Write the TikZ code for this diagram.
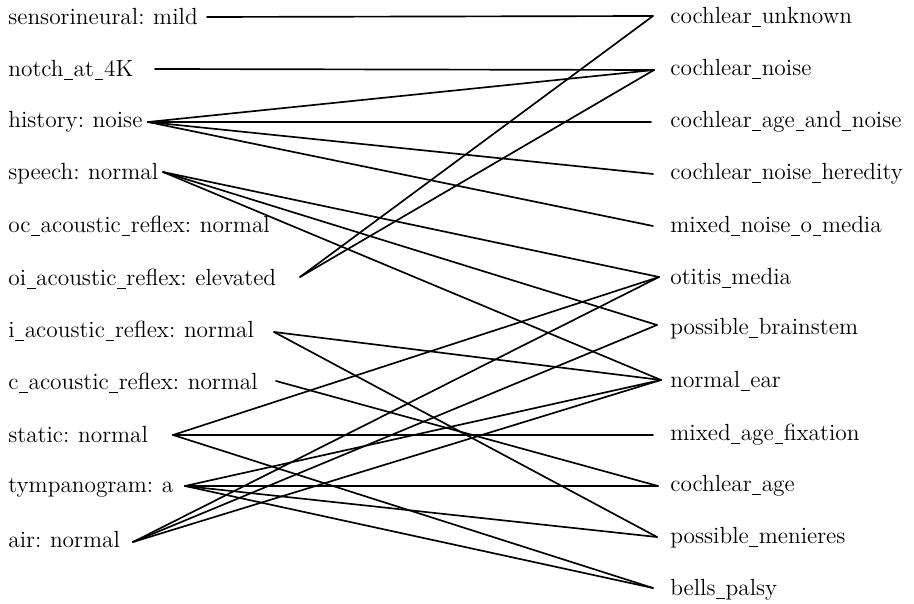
\documentclass[tikz,border=0pt]{standalone}
% slimmer underscore for the identifiers
\newcommand{\usc}{\kern0.03em\rule[-0.13em]{0.37em}{0.045em}\kern0.03em}
% label font with a slightly tighter word space
\newcommand{\lblfont}{\fontsize{13.3}{15}\selectfont\spaceskip=0.26em plus 0.1em\relax}
\begin{document}
\begin{tikzpicture}[x=0.02cm,y=-0.02cm,
  lbl/.style={inner sep=0pt,font=\lblfont},
  leftlbl/.style={lbl,anchor=west},
  rightlbl/.style={lbl,anchor=west},
  link/.style={line width=0.95pt,line cap=round,line join=round}]
\useasboundingbox (0,0) rectangle (914,604);

% findings (left column)
\node[leftlbl] (sens)   at (8,17)  {sensorineural: mild};
\node[leftlbl] (notch)  at (8,70)  {notch\usc at\usc 4K};
\node[leftlbl] (hist)   at (8,122) {history: noise};
\node[leftlbl] (speech) at (8,174) {speech: normal};
\node[leftlbl] (oc)     at (8,226) {oc\usc acoustic\usc reflex: normal};
\node[leftlbl] (oi)     at (8,279) {oi\usc acoustic\usc reflex: elevated};
\node[leftlbl] (iar)    at (8,331) {i\usc acoustic\usc reflex: normal};
\node[leftlbl] (car)    at (8,383) {c\usc acoustic\usc reflex: normal};
\node[leftlbl] (static) at (8,435) {static: normal};
\node[leftlbl] (tymp)   at (8,488) {tympanogram: a};
\node[leftlbl] (air)    at (8,540) {air: normal};

% diagnoses (right column)
\node[rightlbl] (cu)   at (670,17)  {cochlear\usc unknown};
\node[rightlbl] (cn)   at (670,69)  {cochlear\usc noise};
\node[rightlbl] (can)  at (670,122) {cochlear\usc age\usc and\usc noise};
\node[rightlbl] (cnh)  at (670,174) {cochlear\usc noise\usc heredity};
\node[rightlbl] (mnom) at (670,226) {mixed\usc noise\usc o\usc media};
\node[rightlbl] (om)   at (670,278) {otitis\usc media};
\node[rightlbl] (pb)   at (670,329) {possible\usc brainstem};
\node[rightlbl] (ne)   at (670,381) {normal\usc ear};
\node[rightlbl] (maf)  at (670,435) {mixed\usc age\usc fixation};
\node[rightlbl] (ca)   at (670,486) {cochlear\usc age};
\node[rightlbl] (pm)   at (670,538) {possible\usc menieres};
\node[rightlbl] (bp)   at (670,590) {bells\usc palsy};

% line ends on the finding side
\coordinate (sens-p)   at (207,17);
\coordinate (notch-p)  at (155,69);
\coordinate (hist-p)   at (148,122);
\coordinate (speech-p) at (163,172);
\coordinate (oi-p)     at (300,277);
\coordinate (iar-p)    at (274,332);
\coordinate (car-p)    at (276,381);
\coordinate (static-p) at (173,435);
\coordinate (tymp-p)   at (185,486);
\coordinate (air-p)    at (133,542);

% line ends on the diagnosis side
\coordinate (cu-p)   at (653,16);
\coordinate (cn-p)   at (654,70);
\coordinate (can-p)  at (651,122);
\coordinate (cnh-p)  at (653,174);
\coordinate (mnom-p) at (653,226);
\coordinate (om-p)   at (659,277);
\coordinate (pb-p)   at (657,325);
\coordinate (ne-p)   at (661,380);
\coordinate (maf-p)  at (653,435);
\coordinate (ca-p)   at (658,486);
\coordinate (pm-p)   at (657,537);
\coordinate (bp-p)   at (653,588);

% links
\draw[link] (sens-p) -- (cu-p);
\draw[link] (notch-p) -- (cn-p);
\draw[link] (hist-p) -- (cn-p);
\draw[link] (hist-p) -- (can-p);
\draw[link] (hist-p) -- (cnh-p);
\draw[link] (hist-p) -- (mnom-p);
\draw[link] (speech-p) -- (om-p);
\draw[link] (speech-p) -- (pb-p);
\draw[link] (speech-p) -- (ne-p);
\draw[link] (oi-p) -- (cu-p);
\draw[link] (oi-p) -- (cn-p);
\draw[link] (iar-p) -- (ne-p);
\draw[link] (iar-p) -- (pm-p);
\draw[link] (car-p) -- (ca-p);
\draw[link] (static-p) -- (om-p);
\draw[link] (static-p) -- (maf-p);
\draw[link] (static-p) -- (bp-p);
\draw[link] (tymp-p) -- (ne-p);
\draw[link] (tymp-p) -- (ca-p);
\draw[link] (tymp-p) -- (pm-p);
\draw[link] (tymp-p) -- (bp-p);
\draw[link] (air-p) -- (om-p);
\draw[link] (air-p) -- (pb-p);
\draw[link] (air-p) -- (ne-p);
\end{tikzpicture}
\end{document}
